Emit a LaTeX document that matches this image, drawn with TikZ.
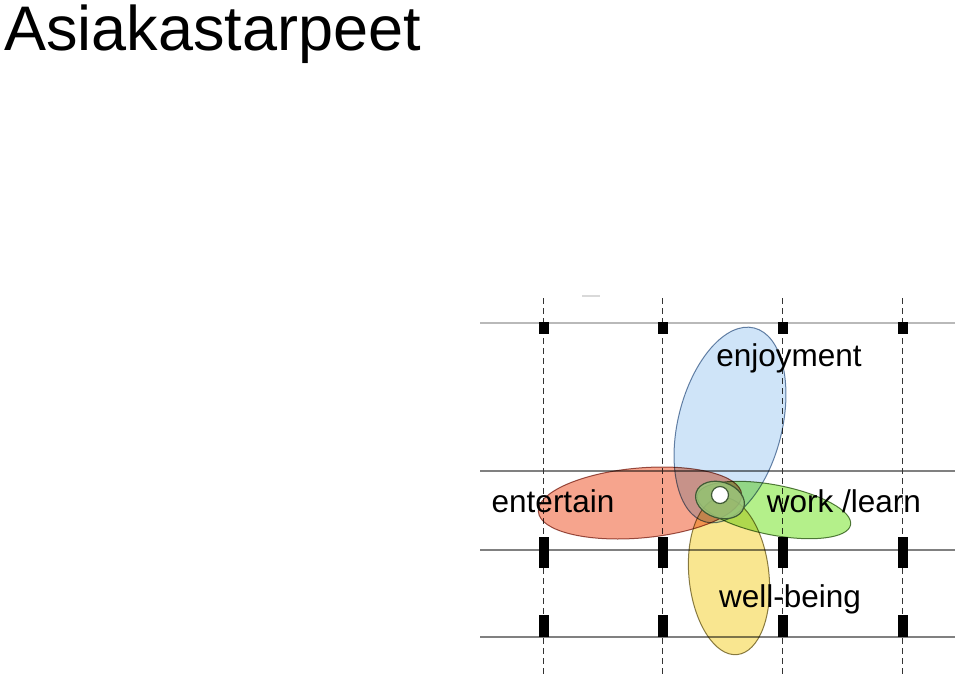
\documentclass[tikz,border=0pt]{standalone}
\usepackage{fontspec}
\setmainfont{Liberation Sans}
\usetikzlibrary{positioning}

\definecolor{enjoyfill}{HTML}{CFE4F8}
\definecolor{enjoyline}{HTML}{6C86A6}
\definecolor{enterfill}{HTML}{F6A48D}
\definecolor{enterline}{HTML}{9A5A50}
\definecolor{workfill}{HTML}{B4F08A}
\definecolor{workline}{HTML}{5E7D4A}
\definecolor{wellfill}{HTML}{F9E690}
\definecolor{wellline}{HTML}{8A8155}
\definecolor{corefill}{HTML}{9CC67C}
\definecolor{coreline}{HTML}{3F5A35}

\tikzset{
  need/.style={blend mode=multiply, line width=0.5pt},
  label/.style={anchor=base, inner sep=0pt, font=\fontsize{15.75}{18}\selectfont},
  grid line/.style={line width=1.2pt}
}

\begin{document}
\begin{tikzpicture}[x=0.5pt, y=-0.5pt]
  \useasboundingbox (0,0) rectangle (960,677);

  % Title
  \node[anchor=base west, inner sep=0pt, font=\fontsize{31.5}{36}\selectfont] (title) at (4,50) {Asiakastarpeet};

  % Grid
  \draw[grid line, gray!55] (480,323) -- (955,323);
  \foreach \y in {471,550,637}
    \draw[grid line, gray] (480,\y) -- (955,\y);
  \foreach \x in {543.5,662.5,782.5,902.5} {
    \draw[densely dashed, line width=0.5pt, black!80] (\x,298) -- (\x,677);
    \fill (\x-5,322) rectangle (\x+5,334);
    \fill (\x-5,537) rectangle (\x+5,568);
    \fill (\x-5,615) rectangle (\x+5,637);
  }
  \draw[gray!30, line width=1pt] (582,296) -- (600,296);

  % Needs
  \filldraw[need, fill=enjoyfill, draw=enjoyline, rotate around={-14:(730,425)}] (730,425) ellipse (52 and 100);
  \filldraw[need, fill=enterfill, draw=enterline, rotate around={5:(640,503)}] (640,503) ellipse (102 and 35);
  \filldraw[need, fill=wellfill, draw=wellline, rotate around={6:(729,576)}] (729,576) ellipse (40 and 79);
  \filldraw[need, fill=workfill, draw=workline, rotate around={-11:(774,510)}] (774,510) ellipse (78 and 25);
  \filldraw[fill=corefill, fill opacity=0.85, draw=coreline, line width=0.6pt, rotate around={-18:(720,500)}] (720,500) ellipse (25 and 18);
  \filldraw[fill=white, draw=coreline, line width=0.6pt] (720,495) circle (8.5);

  % Labels
  \node[label] (enjoyment) at (789,366) {enjoyment};
  \node[label] (entertain) at (553,512) {entertain};
  \node[label] (work) at (844,512) {work /learn};
  \node[label] (wellbeing) at (790,607) {well-being};

\end{tikzpicture}
\end{document}
